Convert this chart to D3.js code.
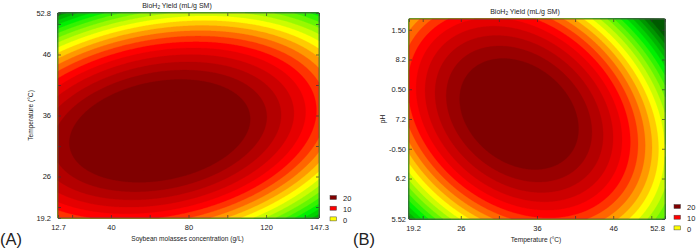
<!DOCTYPE html>
<html>
<head>
<meta charset="utf-8">
<script src="https://cdnjs.cloudflare.com/ajax/libs/d3/7.8.5/d3.min.js"></script>
<style>
body { margin: 0; background: #fff; }
text { font-family: "Liberation Sans", Arial, sans-serif; fill: #222; }
</style>
</head>
<body>
<div id="chart"></div>
<script>
var svgWidth = 696;
var svgHeight = 249;

// contour levels (mL/g SM) and the colour stops of the map
var levels = d3.range(-40, 30, 2);
var colourStops = [-20, -10, 0, 10, 20];
var colourList = ["#005a00", "#00f000", "#ffff00", "#ff0000", "#800000"];
var legendValues = [20, 10, 0];

// panel A: soybean molasses vs temperature
var molassesTicks = [12.7, 40, 80, 120, 147.3];
var molassesMinor = [20, 60, 100, 140];
var tempTicks = [19.2, 26, 36, 46, 52.8];
var tempMinor = [21, 31, 41, 51];
// surface, coded units:
// [peak, centre u, centre v, curvature u, curvature v, interaction]
var surfaceA = [25, -0.22, -0.15, 11, 21, 7];

// panel B: temperature vs pH
var phTicks = [5.52, 6.2, 6.7, 7.2, 7.7, 8.2, 8.7];
var phLabels = ["5.52", "6.2", "-0.50", "7.2", "0.50", "8.2", "1.50"];
var surfaceB = [24, -0.14, 0.05, 20, 14, -9];

var colour = d3.scaleLinear().domain(colourStops).range(colourList).clamp(true);

var svg = d3.select("#chart")
  .append("svg")
  .attr("width", svgWidth)
  .attr("height", svgHeight);

function drawPanel(cfg) {
  var x = d3.scaleLinear().domain(cfg.xDomain).range([cfg.left, cfg.right]);
  var y = d3.scaleLinear().domain(cfg.yDomain).range([cfg.bottom, cfg.top]);
  var w = cfg.right - cfg.left;
  var h = cfg.bottom - cfg.top;
  var s = cfg.surface;

  var grid = new Array(w * h);
  for (var j = 0; j < h; j++) {
    for (var i = 0; i < w; i++) {
      var u = cfg.codeX(x.invert(cfg.left + i + 0.5)) - s[1];
      var v = cfg.codeY(y.invert(cfg.top + j + 0.5)) - s[2];
      grid[j * w + i] = s[0] - s[3] * u * u - s[4] * v * v + s[5] * u * v;
    }
  }

  var contours = d3.contours().size([w, h]).thresholds(levels)(grid);

  var g = svg.append("g");

  g.append("g")
    .attr("transform", "translate(" + cfg.left + "," + cfg.top + ")")
    .selectAll("path")
    .data(contours)
    .enter()
    .append("path")
    .attr("d", d3.geoPath())
    .attr("fill", function(d) { return colour(d.value); })
    .attr("stroke", function(d) { return colour(d.value); })
    .attr("stroke-width", 0.3);

  // inward ticks on all four sides
  var xAll = cfg.xTicks.concat(cfg.xMinor);
  var yAll = cfg.yTicks.concat(cfg.yMinor);
  function tickAxis(axis, tr) {
    g.append("g")
      .attr("transform", tr)
      .call(axis.tickSizeInner(-3).tickSizeOuter(0).tickFormat(""))
      .call(function(a) { a.select(".domain").remove(); })
      .selectAll("line").attr("stroke", "#333").attr("stroke-width", 0.7);
  }
  tickAxis(d3.axisBottom(x).tickValues(xAll), "translate(0," + cfg.bottom + ")");
  tickAxis(d3.axisTop(x).tickValues(xAll), "translate(0," + cfg.top + ")");
  tickAxis(d3.axisLeft(y).tickValues(yAll), "translate(" + cfg.left + ",0)");
  tickAxis(d3.axisRight(y).tickValues(yAll), "translate(" + cfg.right + ",0)");

  g.append("rect")
    .attr("x", cfg.left)
    .attr("y", cfg.top)
    .attr("width", w)
    .attr("height", h)
    .attr("fill", "none")
    .attr("stroke", "#555")
    .attr("stroke-width", 0.8);

  // tick labels
  var bx = g.append("g")
    .attr("transform", "translate(0," + cfg.bottom + ")")
    .call(d3.axisBottom(x).tickValues(cfg.xTicks).tickSize(0).tickPadding(6.5)
      .tickFormat(function(d, i) { return cfg.xLabels[i]; }));
  bx.select(".domain").remove();
  bx.selectAll("text")
    .style("font-size", "7.5px")
    .style("font-family", "Liberation Sans, Arial, sans-serif")
    .attr("fill", "#222")
    .attr("dx", function(d, i) { return cfg.xShift[i]; });

  var ly = g.append("g")
    .attr("transform", "translate(" + cfg.left + ",0)")
    .call(d3.axisLeft(y).tickValues(cfg.yTicks).tickSize(0).tickPadding(cfg.yPad)
      .tickFormat(function(d, i) { return cfg.yLabels[i]; }));
  ly.select(".domain").remove();
  ly.selectAll("text")
    .style("font-size", "7.5px")
    .style("font-family", "Liberation Sans, Arial, sans-serif")
    .attr("fill", "#222");

  // titles
  var title = g.append("text")
    .attr("x", cfg.titleX)
    .attr("y", cfg.top - 5.5)
    .attr("text-anchor", "middle")
    .style("font-size", "7px");
  title.append("tspan").text("BioH");
  title.append("tspan").attr("dy", 1.8).style("font-size", "4.8px").text("2");
  title.append("tspan").attr("dy", -1.8).text(" Yield (mL/g SM)");

  g.append("text")
    .attr("x", (cfg.left + cfg.right) / 2 - 1)
    .attr("y", cfg.bottom + 23)
    .attr("text-anchor", "middle")
    .style("font-size", "6.6px")
    .text(cfg.xTitle);

  g.append("text")
    .attr("transform", "translate(" + cfg.yTitleX + "," + (cfg.top + cfg.bottom) / 2 + ") rotate(-90)")
    .attr("text-anchor", "middle")
    .style("font-size", "6.6px")
    .text(cfg.yTitle);

  // legend
  var leg = g.append("g")
    .selectAll("g")
    .data(legendValues)
    .enter()
    .append("g")
    .attr("transform", function(d, i) {
      return "translate(" + cfg.legendX + "," + (cfg.legendY + i * 10.7) + ")";
    });
  leg.append("rect")
    .attr("x", 0)
    .attr("y", -3)
    .attr("width", 6.5)
    .attr("height", 4)
    .attr("fill", function(d) { return colour(d); })
    .attr("stroke", "#444")
    .attr("stroke-width", 0.5);
  leg.append("text")
    .attr("x", 13)
    .attr("y", 2.8)
    .style("font-size", "7.5px")
    .text(function(d) { return d; });

  g.append("text")
    .attr("x", cfg.panelX)
    .attr("y", 245)
    .style("font-size", "16.5px")
    .text(cfg.panel);
}

drawPanel({
  left: 58, right: 319, top: 13, bottom: 218,
  xDomain: [12.7, 147.3], yDomain: [19.2, 52.8],
  codeX: function(v) { return (v - 80) / 67.3; },
  codeY: function(v) { return (v - 36) / 16.8; },
  surface: surfaceA,
  xTicks: molassesTicks, xMinor: molassesMinor,
  xLabels: molassesTicks.map(String), xShift: [0, 0, 0, 0, 0],
  yTicks: tempTicks, yMinor: tempMinor,
  yLabels: tempTicks.map(String), yPad: 7,
  titleX: 177, xTitle: "Soybean molasses concentration (g/L)",
  yTitle: "Temperature (\u00b0C)", yTitleX: 33,
  legendX: 330, legendY: 198.5,
  panel: "(A)", panelX: 0
});

drawPanel({
  left: 409, right: 665, top: 19, bottom: 219,
  xDomain: [19.2, 52.8], yDomain: [5.52, 8.88],
  codeX: function(v) { return (v - 36) / 16.8; },
  codeY: function(v) { return (v - 7.2) / 1.68; },
  surface: surfaceB,
  xTicks: tempTicks, xMinor: tempMinor,
  xLabels: tempTicks.map(String), xShift: [4, 0, 0, 0, -8],
  yTicks: phTicks, yMinor: [],
  yLabels: phLabels, yPad: 3,
  titleX: 525, xTitle: "Temperature (\u00b0C)",
  yTitle: "pH", yTitleX: 385,
  legendX: 674, legendY: 207.5,
  panel: "(B)", panelX: 353
});
</script>
</body>
</html>
